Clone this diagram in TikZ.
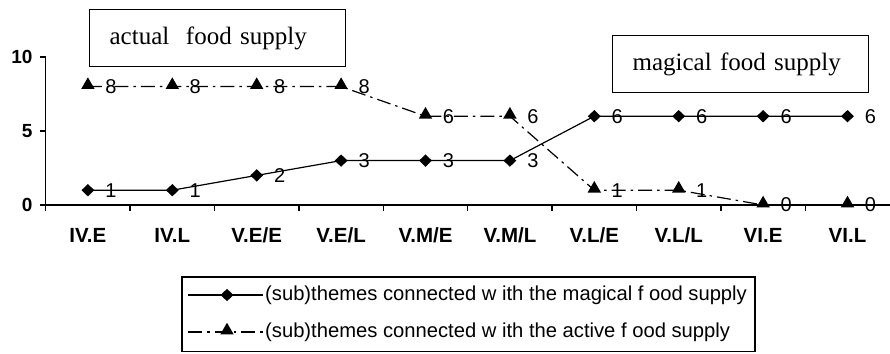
\documentclass[tikz,border=0pt]{standalone}
\usepackage{fontspec}
\setmainfont{Liberation Serif}
\setsansfont{Liberation Sans}
\usepackage{tikz}
\usetikzlibrary{shapes.geometric,positioning}

\begin{document}
\begin{tikzpicture}[x=84.4pt, y=14.8pt,
    diam/.style={shape=diamond, fill, inner sep=0pt, minimum width=13pt, minimum height=12.5pt},
    tri/.style={shape=regular polygon, regular polygon sides=3, fill, inner sep=0pt, minimum size=15.5pt, yshift=1.5pt},
    val/.style={font=\sffamily\fontsize{20}{20}\selectfont, inner sep=0pt},
    cat/.style={font=\sffamily\bfseries\fontsize{20.5}{20.5}\selectfont, inner sep=0pt},
    ynum/.style={font=\sffamily\bfseries\fontsize{19}{19}\selectfont, inner sep=0pt, anchor=east},
    dashdot/.style={dash pattern=on 14pt off 5pt on 2.5pt off 5pt},
    textbox/.style={draw, line width=1.2pt, anchor=north west, minimum width=256pt, minimum height=57pt,
      inner xsep=20pt, text width=216pt, align=left, font=\fontsize{25}{25}\selectfont},
    legtext/.style={anchor=west, inner sep=0pt, font=\sffamily\fontsize{20.2}{20.2}\selectfont}]
    \useasboundingbox (-45.7pt,-148pt) rectangle (844.3pt,205pt);

    % axes
    \draw[line width=1.3pt] (0,10) -- (0,0) -- (10,0);
    \foreach \y in {0,5,10}
      \draw[line width=1.3pt] (0,\y) -- (-6pt,\y);
    \foreach \x in {0,...,9}
      \draw[line width=1.3pt] (\x,0) -- ([yshift=-6pt]\x,0);
    \node[ynum] (y10) at ([xshift=-13pt]0,10) {10};
    \node[ynum] (y5) at ([xshift=-13pt]0,5) {5};
    \node[ynum] (y0) at ([xshift=-13pt]0,0) {0};
    \foreach \c [count=\i] in {IV.E,IV.L,V.E/E,V.E/L,V.M/E,V.M/L,V.L/E,V.L/L,VI.E,VI.L}
      \node[cat] (c\i) at ([yshift=-30pt]\i-0.5,0) {\c};

    % data points
    \foreach \v [count=\i] in {1,1,2,3,3,3,6,6,6,6}
      \coordinate (m\i) at (\i-0.5,\v);
    \foreach \v [count=\i] in {8,8,8,8,6,6,1,1,0,0}
      \coordinate (a\i) at (\i-0.5,\v);

    \draw[line width=1.2pt] (m1) \foreach \i in {2,...,10} {-- (m\i)};
    \draw[line width=1.2pt, dashdot] (a1) \foreach \i in {2,...,10} {-- (a\i)};

    \foreach \v [count=\i] in {1,1,2,3,3,3,6,6,6,6} {
      \node[diam] (md\i) at (m\i) {};
      \node[val] (mv\i) at ([xshift=23pt]m\i) {\v};
    }
    \foreach \v [count=\i] in {8,8,8,8,6,6,1,1,0,0} {
      \node[tri] (at\i) at (a\i) {};
      \node[val] (av\i) at ([xshift=23pt]a\i) {\v};
    }

    % text boxes
    \node[textbox] (actual) at (43.3pt,196pt) {actual\ \ food supply};
    \node[textbox] (magical) at (566.3pt,170pt) {magical food supply};

    % legend
    \draw[line width=1.2pt] (136.3pt,-72pt) rectangle (709.3pt,-146.5pt);
    \coordinate (l1a) at (142.3pt,-90pt);
    \coordinate (l1b) at (217.3pt,-90pt);
    \coordinate (l2a) at (142.3pt,-127pt);
    \coordinate (l2b) at (217.3pt,-127pt);
    \draw[line width=1.2pt] (l1a) -- (l1b);
    \draw[line width=1.2pt, dashdot] (l2a) -- (l2b);
    \node[diam] (lm) at (181.3pt,-90pt) {};
    \node[tri] (la) at (181.3pt,-127pt) {};
    \node[legtext] (lt1) at (219.3pt,-90pt) {(sub)themes connected w ith the magical f ood supply};
    \node[legtext] (lt2) at (219.3pt,-127pt) {(sub)themes connected w ith the active f ood supply};
\end{tikzpicture}
\end{document}
